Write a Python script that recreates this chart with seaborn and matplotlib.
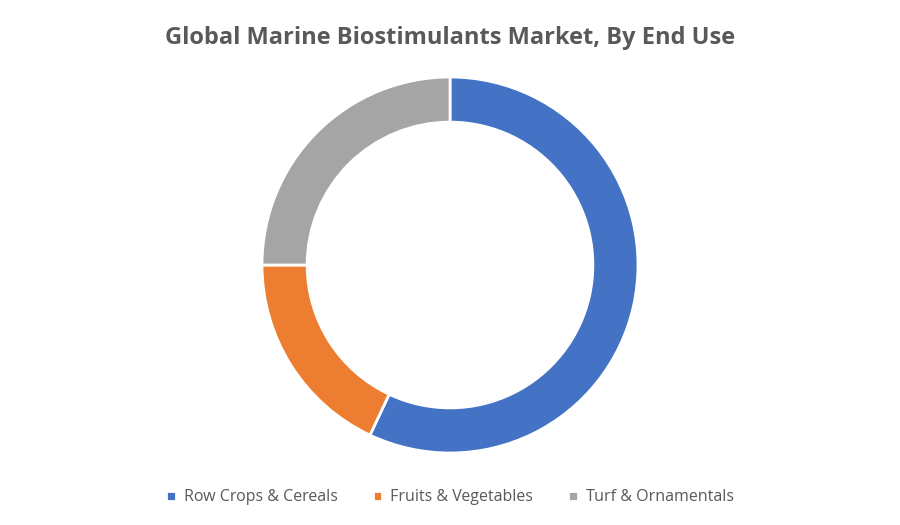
import matplotlib
matplotlib.use("Agg")
import matplotlib.pyplot as plt
import seaborn as sns

categories = ["Row Crops & Cereals", "Fruits & Vegetables", "Turf & Ornamentals"]
shares = [57, 18, 25]
colors = ["#4472C4", "#ED7D31", "#A5A5A5"]

sns.set_theme(style="white", font="Open Sans")
fig = plt.figure(figsize=(9, 5.25), dpi=100)
ax = fig.add_axes([(450 - 188) / 900, (260 - 188) / 525, 376 / 900, 376 / 525])
wedges, _ = ax.pie(shares, colors=sns.color_palette(colors), startangle=90, counterclock=False,
                   radius=1, wedgeprops=dict(width=0.24, edgecolor="white", linewidth=2))
ax.set_xlim(-1, 1)
ax.set_ylim(-1, 1)
ax.set_aspect("equal")
ax.axis("off")

fig.suptitle("Global Marine Biostimulants Market, By End Use", y=0.95,
             fontsize=17, fontweight="bold", color="#595959")
fig.legend(wedges, categories, loc="lower center", bbox_to_anchor=(0.5, 0.01), ncol=3,
           frameon=False, fontsize=11.5, labelcolor="#595959", handlelength=0.6,
           handleheight=0.6, handletextpad=0.5, columnspacing=2.2)
fig.savefig("out.png", dpi=100)
